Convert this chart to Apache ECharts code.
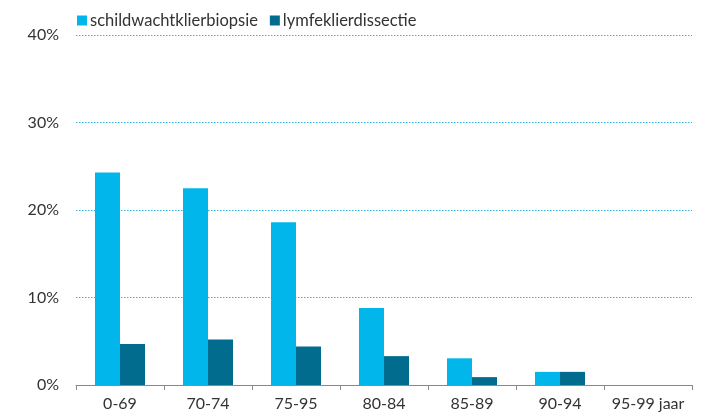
<!DOCTYPE html>
<html>
<head>
<meta charset="utf-8">
<script src="https://cdn.jsdelivr.net/npm/echarts@6/dist/echarts.min.js"></script>
<style>html,body{margin:0;padding:0;background:#fff;}#c{width:707px;height:419px;}</style>
</head>
<body>
<div id="c"></div>
<script>
const categories = ['0-69', '70-74', '75-95', '80-84', '85-89', '90-94', '95-99 jaar'];
const schildwacht = [24.3, 22.5, 18.6, 8.8, 3.05, 1.5, 0];
const lymfeklier = [4.7, 5.2, 4.4, 3.3, 0.9, 1.5, 0];
const seriesNames = ['schildwachtklierbiopsie', 'lymfeklierdissectie'];
const yTicks = [0, 10, 20, 30, 40];

const chart = echarts.init(document.getElementById('c'));
const font = 'Lato, "Open Sans", sans-serif';
chart.setOption({
  animation: false,
  textStyle: {fontFamily: font},
  legend: {
    left: 72, top: 7,
    itemWidth: 10, itemHeight: 10, itemGap: 12,
    icon: 'rect',
    textStyle: {fontSize: 16.5, color: '#333', fontFamily: font, padding: [0, 0, 0, -2]},
    data: seriesNames
  },
  grid: {left: 76, right: 15, top: 35, bottom: 34, containLabel: false},
  xAxis: {
    type: 'category', data: categories,
    axisLine: {lineStyle: {color: '#8a8a8a', width: 1}},
    axisTick: {show: true, length: 5, lineStyle: {color: '#8a8a8a'}},
    axisLabel: {fontSize: 16, color: '#333', margin: 11, interval: 0, fontFamily: font},
    splitLine: {show: false}
  },
  yAxis: {
    type: 'value', min: yTicks[0], max: yTicks[yTicks.length - 1], interval: 10,
    axisLine: {show: false}, axisTick: {show: false},
    axisLabel: {fontSize: 16, color: '#333', margin: 17, formatter: '{value}%', fontFamily: font},
    splitLine: {show: true, lineStyle: {color: '#2bb8e6', type: [1.5, 1.5], width: 1}}
  },
  series: [
    {name: seriesNames[0], type: 'bar', data: schildwacht, barWidth: 25, barGap: '0%',
     itemStyle: {color: '#00b6ea'}},
    {name: seriesNames[1], type: 'bar', data: lymfeklier, barWidth: 25,
     itemStyle: {color: '#016c8e'}}
  ]
});
</script>
</body>
</html>
